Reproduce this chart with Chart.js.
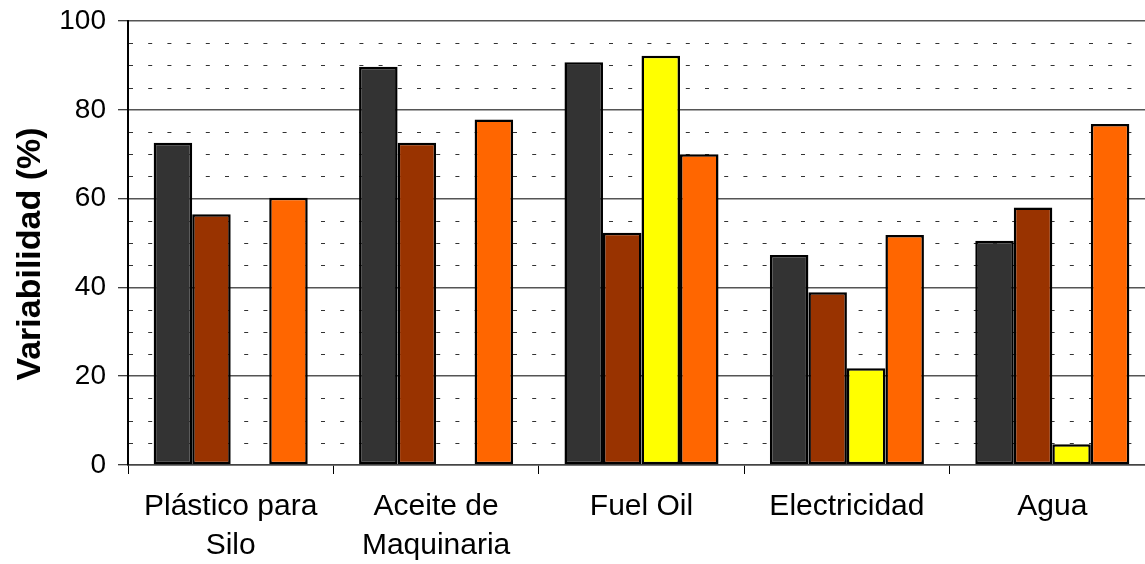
<!DOCTYPE html>
<html>
<head>
<meta charset="utf-8">
<script src="https://cdn.jsdelivr.net/npm/chart.js@4.4.0/dist/chart.umd.min.js"></script>
<style>
  html, body { margin: 0; padding: 0; background: #fff; overflow: hidden; }
  #wrap { width: 1165px; height: 564px; }
</style>
</head>
<body>
<div id="wrap"><canvas id="c" width="1165" height="564"></canvas></div>
<script>
const categories = [["Plástico para", "Silo"], ["Aceite de", "Maquinaria"], "Fuel Oil", "Electricidad", "Agua"];
const series1 = [72.6, 89.7, 90.7, 47.3, 50.5];
const series2 = [56.5, 72.6, 52.3, 38.9, 58.0];
const series3 = [null, null, 92.2, 21.8, 4.7];
const series4 = [60.2, 77.8, 70.0, 51.8, 76.8];
const yTitle = "Variabilidad (%)";
const yMin = 0, yMax = 100, yMajorStep = 20, yMinorStep = 5;

const fontFamily = '"Liberation Sans", Arial, Helvetica, sans-serif';

function ds(data, color) {
  return {
    data: data,
    backgroundColor: color,
    borderColor: '#000',
    borderWidth: 2.5,
    borderSkipped: false,
    barPercentage: 1.0,
    categoryPercentage: 0.75
  };
}

const minorGrid = {
  id: 'minorGrid',
  beforeDatasetsDraw(chart) {
    const y = chart.scales.y;
    const area = chart.chartArea;
    const ctx = chart.ctx;
    ctx.save();
    ctx.strokeStyle = '#333';
    ctx.lineWidth = 1;
    ctx.setLineDash([4, 15.2]);
    for (let v = yMin + yMinorStep; v < yMax; v += yMinorStep) {
      if (v % yMajorStep === 0) continue;
      const py = Math.round(y.getPixelForValue(v)) + 0.5;
      ctx.beginPath();
      ctx.moveTo(area.left + 1, py);
      ctx.lineTo(area.right, py);
      ctx.stroke();
    }
    ctx.restore();
  }
};

const yTitlePlugin = {
  id: 'yTitlePlugin',
  afterDraw(chart) {
    const ctx = chart.ctx;
    ctx.save();
    ctx.translate(31, 254);
    ctx.rotate(-Math.PI / 2);
    ctx.font = 'bold 34px ' + fontFamily;
    ctx.fillStyle = '#000';
    ctx.textAlign = 'center';
    ctx.textBaseline = 'middle';
    ctx.fillText(yTitle, 0, 0);
    ctx.restore();
  }
};

new Chart(document.getElementById('c'), {
  type: 'bar',
  data: {
    labels: categories,
    datasets: [
      ds(series1, '#333333'),
      ds(series2, '#993300'),
      ds(series3, '#FFFF00'),
      ds(series4, '#FF6600')
    ]
  },
  plugins: [minorGrid, yTitlePlugin],
  options: {
    responsive: false,
    animation: false,
    devicePixelRatio: 1,
    layout: { padding: { top: 21, right: 10, left: 0, bottom: 0 } },
    plugins: { legend: { display: false }, tooltip: { enabled: false }, title: { display: false } },
    scales: {
      x: {
        offset: true,
        grid: {
          offset: true,
          drawOnChartArea: false,
          drawTicks: true,
          tickLength: 9,
          tickColor: '#000',
          tickWidth: 1
        },
        border: { display: true, color: '#444', width: 1.5 },
        ticks: {
          color: '#000',
          font: { family: fontFamily, size: 30, lineHeight: 1.3 },
          padding: 13,
          maxRotation: 0,
          autoSkip: false
        },
        afterFit(scale) { scale.height = 99; scale.paddingLeft = 0; scale.paddingRight = 0; }
      },
      y: {
        min: yMin,
        max: yMax,
        ticks: {
          stepSize: yMajorStep,
          color: '#000',
          font: { family: fontFamily, size: 28 },
          padding: 12
        },
        grid: {
          color: '#555',
          lineWidth: 1.5,
          drawTicks: true,
          tickLength: 10,
          tickColor: '#000',
          tickWidth: 1
        },
        border: { display: true, color: '#000', width: 2 },
        afterFit(scale) { scale.width = 128; scale.paddingTop = 0; scale.paddingBottom = 0; }
      }
    }
  }
});
</script>
</body>
</html>
